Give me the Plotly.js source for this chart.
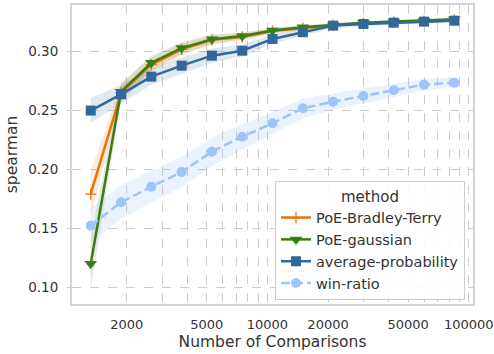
<!DOCTYPE html>
<html>
<head>
<meta charset="utf-8">
<script src="https://cdn.plot.ly/plotly-3.0.1.min.js"></script>
<style>html,body{margin:0;padding:0;background:#fff;}#chart{width:494px;height:354px;}</style>
</head>
<body>
<div id="chart"></div>
<script>
// Number of comparisons (x)
const comparisons = [1325, 1874, 2650, 3748, 5300, 7496, 10600, 14991, 21200, 29981, 42400, 59962, 84800];

// Spearman values per method
const poeBT      = [0.179, 0.265, 0.289, 0.302, 0.310, 0.3125, 0.3175, 0.3200, 0.3225, 0.3240, 0.3250, 0.3260, 0.3270];
const poeBTLo    = [0.161, 0.257, 0.283, 0.297, 0.306, 0.3095, 0.3150, 0.3180, 0.3210, 0.3228, 0.3240, 0.3252, 0.3263];
const poeBTHi    = [0.198, 0.273, 0.295, 0.307, 0.314, 0.3155, 0.3200, 0.3220, 0.3240, 0.3252, 0.3260, 0.3268, 0.3277];

const poeGauss   = [0.120, 0.266, 0.2905, 0.303, 0.3105, 0.3133, 0.318, 0.3207, 0.3227, 0.3246, 0.3255, 0.3263, 0.3275];
const poeGaussLo = [0.098, 0.259, 0.2845, 0.298, 0.3065, 0.3103, 0.3155, 0.3187, 0.3212, 0.3234, 0.3245, 0.3255, 0.3268];
const poeGaussHi = [0.142, 0.273, 0.2965, 0.308, 0.3145, 0.3163, 0.3205, 0.3227, 0.3242, 0.3258, 0.3265, 0.3271, 0.3282];

const avgProb    = [0.250, 0.2638, 0.2788, 0.2881, 0.2966, 0.3008, 0.3108, 0.3165, 0.3221, 0.3235, 0.3246, 0.3255, 0.3263];
const avgProbLo  = [0.2395, 0.2558, 0.2718, 0.2811, 0.2906, 0.2958, 0.3068, 0.3135, 0.3198, 0.3215, 0.3230, 0.3242, 0.3253];
const avgProbHi  = [0.2605, 0.2718, 0.2858, 0.2951, 0.3026, 0.3058, 0.3148, 0.3195, 0.3244, 0.3255, 0.3262, 0.3268, 0.3273];

const winRatio   = [0.1523, 0.1721, 0.1854, 0.1979, 0.2151, 0.2278, 0.2392, 0.2519, 0.2575, 0.2624, 0.2672, 0.2720, 0.2737];
const winRatioLo = [0.138, 0.158, 0.172, 0.185, 0.203, 0.217, 0.230, 0.2435, 0.2505, 0.2560, 0.2615, 0.2670, 0.2695];
const winRatioHi = [0.167, 0.187, 0.199, 0.211, 0.227, 0.2385, 0.2485, 0.2605, 0.2645, 0.2688, 0.2729, 0.2770, 0.2779];

// Tick labels
const xTickVals = [2000,3000,4000,5000,6000,7000,8000,9000,10000,20000,30000,40000,50000,60000,70000,80000,90000,100000];
const xTickText = ['2000','','','5000','','','','','10000','20000','','','50000','','','','','100000'];
const yTickVals = [0.10, 0.15, 0.20, 0.25, 0.30];
const yTickText = ['0.10','0.15','0.20','0.25','0.30'];

const methods = [
  {name:'PoE-Bradley-Terry', y:poeBT, lo:poeBTLo, hi:poeBTHi, color:'#e8730c', band:'rgba(232,115,12,0.15)', symbol:'cross-thin', size:8, dash:'solid'},
  {name:'PoE-gaussian', y:poeGauss, lo:poeGaussLo, hi:poeGaussHi, color:'#3a7d17', band:'rgba(58,125,23,0.15)', symbol:'triangle-down', size:11, dash:'solid'},
  {name:'average-probability', y:avgProb, lo:avgProbLo, hi:avgProbHi, color:'#32679a', band:'rgba(50,103,154,0.15)', symbol:'square', size:10, dash:'solid'},
  {name:'win-ratio', y:winRatio, lo:winRatioLo, hi:winRatioHi, color:'#9ec4fb', band:'rgba(158,196,251,0.22)', symbol:'circle', size:10, dash:'9px,4px'}
];

const traces = [];
methods.forEach(m => {
  traces.push({x:comparisons, y:m.lo, mode:'lines', line:{width:0, color:m.band}, showlegend:false, hoverinfo:'skip'});
  traces.push({x:comparisons, y:m.hi, mode:'lines', line:{width:0, color:m.band}, fill:'tonexty', fillcolor:m.band, showlegend:false, hoverinfo:'skip'});
});
methods.forEach(m => {
  traces.push({
    x:comparisons, y:m.y, name:m.name, mode:'lines+markers',
    line:{color:m.color, width:2.5, dash:m.dash},
    marker:{color:m.color, symbol:m.symbol, size:m.size, line:{color:m.color, width:m.symbol==='cross-thin'?1.3:0}}
  });
});

const font = 'DejaVu Sans, sans-serif';
const layout = {
  width:494, height:354,
  margin:{l:72, r:21, t:5, b:50},
  paper_bgcolor:'#ffffff', plot_bgcolor:'#ffffff',
  font:{family:font, color:'#333333', size:13},
  xaxis:{
    type:'log', range:[3.0293, 5.021],
    tickmode:'array', tickvals:xTickVals, ticktext:xTickText,
    showgrid:true, gridcolor:'#cccccc', griddash:'dash', gridwidth:1,
    showline:true, mirror:true, linecolor:'#d3d3d3', linewidth:2,
    ticks:'', zeroline:false, ticklabelstandoff:7,
    tickfont:{family:font, size:13, color:'#333333'},
    title:{text:'Number of Comparisons', font:{family:font, size:15.5, color:'#333333'}, standoff:6}
  },
  yaxis:{
    range:[0.0858, 0.3396],
    tickmode:'array', tickvals:yTickVals, ticktext:yTickText,
    showgrid:true, gridcolor:'#cccccc', griddash:'dash', gridwidth:1,
    showline:true, mirror:true, linecolor:'#d3d3d3', linewidth:2,
    ticks:'outside', ticklen:3, tickcolor:'#cccccc', zeroline:false, ticklabelstandoff:6,
    tickfont:{family:font, size:13.5, color:'#333333'},
    title:{text:'spearman', font:{family:font, size:15.5, color:'#333333'}, standoff:7}
  },
  legend:{
    x:0.98, xanchor:'right', y:0.013, yanchor:'bottom',
    traceorder:'normal',
    bgcolor:'rgba(255,255,255,0.9)', bordercolor:'#cccccc', borderwidth:1,
    font:{family:font, size:14.5, color:'#333333'},
    title:{text:'method', side:'top center', font:{family:font, size:15, color:'#333333'}},
    tracegroupgap:0, itemwidth:30
  },
  showlegend:true
};

Plotly.newPlot('chart', traces, layout, {displayModeBar:false, staticPlot:true});
</script>
</body>
</html>
